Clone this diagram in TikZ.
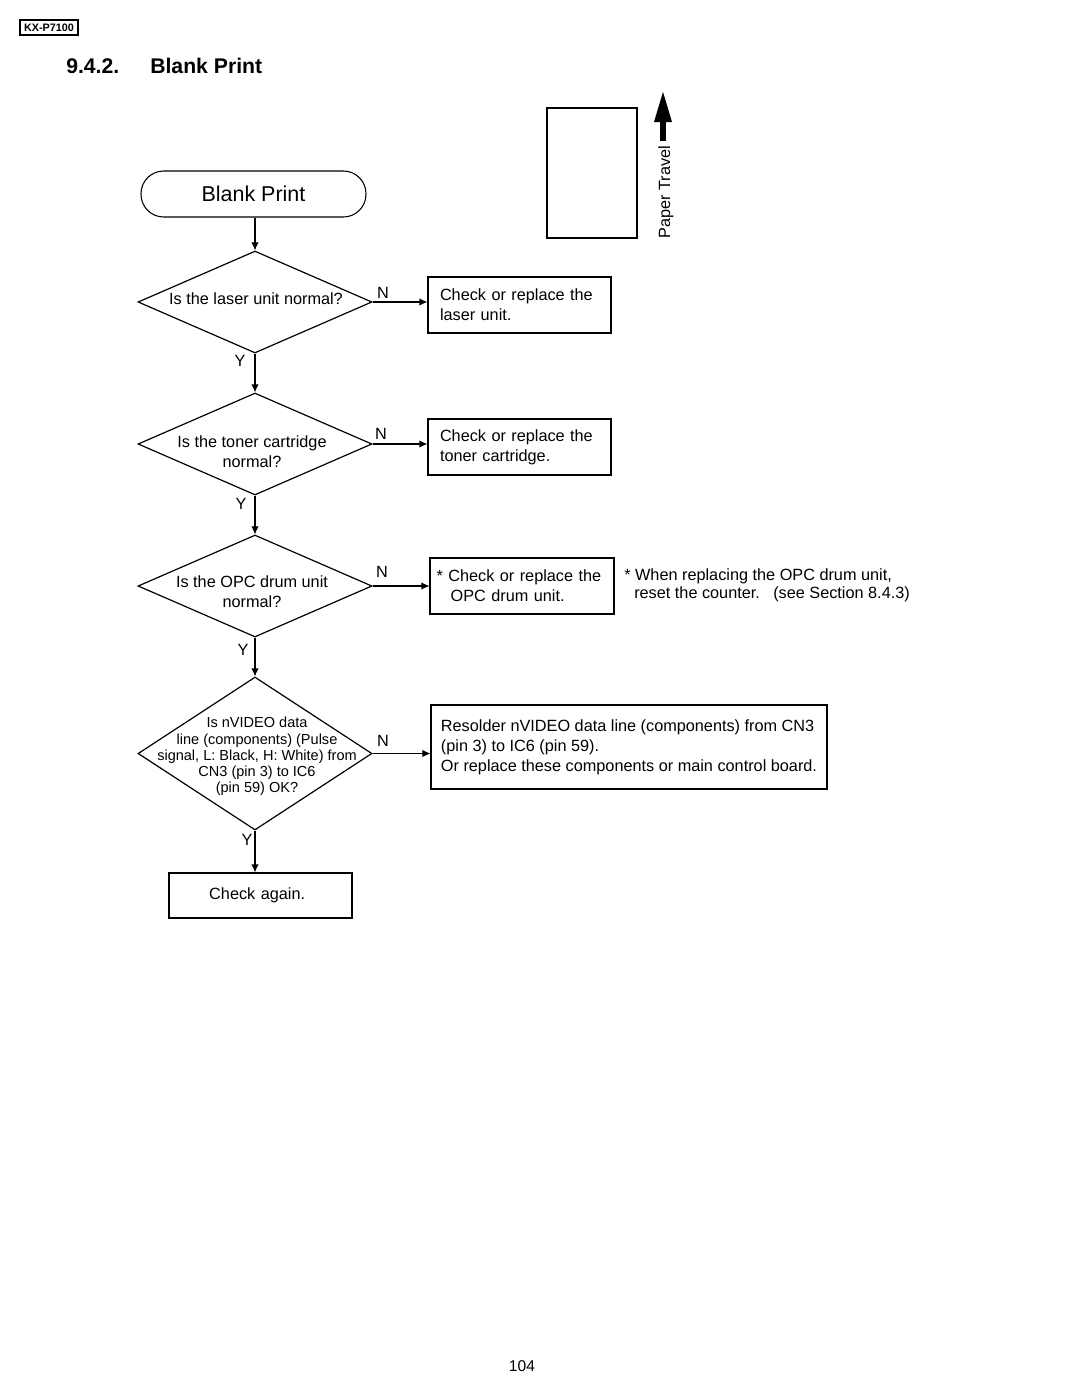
\documentclass[tikz,border=0pt]{standalone}
\usepackage{fontspec}
\setmainfont{Liberation Sans}
\usepackage{tikz}
\usetikzlibrary{shapes.geometric, arrows, arrows.meta}
\tikzstyle{startstop} = [rectangle, rounded corners=17pt, minimum width=168.75pt, minimum height=34.5pt, text centered, draw=black, line width=0.8pt, font=\fontsize{16.1}{19}\selectfont]
\tikzstyle{process} = [rectangle, minimum width=137.25pt, minimum height=42pt, inner xsep=9pt, text width=119.25pt, align=left, draw=black, line width=0.8pt, font=\fontsize{12.2}{15}\selectfont]
\tikzstyle{decision} = [diamond, minimum width=175.5pt, minimum height=76.5pt, inner sep=0pt, draw=black, line width=0.9pt]
\tikzstyle{question} = [align=center, inner sep=0pt, font=\fontsize{12.2}{15}\selectfont]
\tikzstyle{yn} = [inner sep=0pt, font=\fontsize{12.2}{15}\selectfont]
\tikzstyle{arrow} = [line width=0.8pt, -{Latex[length=6pt, width=5.5pt]}]

\begin{document}
\begin{tikzpicture}[x=0.75pt, y=-0.75pt]
	\useasboundingbox (0,0) rectangle (1080,1397);
	% page header
	\node (model) [draw, line width=1pt, inner sep=0pt, minimum width=43.5pt, minimum height=11.25pt, font=\fontsize{8.1}{9}\selectfont\bfseries] at (49,27.5) {KX-P7100};
	\node (secnum) [anchor=west, inner sep=0pt, font=\fontsize{15.9}{19}\selectfont\bfseries] at (66,66) {9.4.2.};
	\node (sectitle) [anchor=west, inner sep=0pt, font=\fontsize{15.9}{19}\selectfont\bfseries] at (150,66) {Blank Print};
	% paper and travel direction
	\node (paper) [draw=black, line width=0.8pt, minimum width=67.5pt, minimum height=97.5pt] at (592,173) {};
	\node (travel) [rotate=90, inner sep=0pt, font=\fontsize{12.2}{15}\selectfont] at (666,192) {Paper Travel};
	\coordinate (travtail) at (663,141);
	\coordinate (travtip) at (663,90);
	\draw [line width=4.5pt, -{Triangle[length=24pt, width=12pt]}] (travtail) -- (travtip);
	% flow
	\node (start) [startstop] at (253.5,194) {Blank Print};
	\node (q1) [decision] at (255,302) {};
	\node (q1t) [question] at (256,299) {Is the laser unit normal?};
	\node (b1) [process] at (519.5,305) {Check or replace the\\laser unit.};
	\node (q2) [decision] at (255,444) {};
	\node (q2t) [question] at (252,452) {Is the toner cartridge\\normal?};
	\node (b2) [process] at (519.5,447) {Check or replace the\\toner cartridge.};
	\node (q3) [decision] at (255,586) {};
	\node (q3t) [question] at (252,592) {Is the OPC drum unit\\normal?};
	\node (b3) [process, minimum width=138pt, inner xsep=5pt, text width=128pt] at (522,586) {* Check or replace the\\\hspace{10.5pt}OPC drum unit.};
	\node (note) [anchor=west, align=left, inner sep=0pt, font=\fontsize{12.2}{13.5}\selectfont] at (624,585) {* When replacing the OPC drum unit,\\\hspace{7.5pt}reset the counter.\hspace{10pt}(see Section 8.4.3)};
	\node (q4) [decision, minimum height=114.75pt] at (255,753.5) {};
	\node (q4t) [question, font=\fontsize{10.9}{12.2}\selectfont] at (257,756.5) {Is nVIDEO data\\line (components) (Pulse\\signal, L: Black, H: White) from\\CN3 (pin 3) to IC6\\(pin 59) OK?};
	\node (b4) [process, minimum width=297pt, minimum height=63pt, inner xsep=6.75pt, text width=] at (629,747) {Resolder nVIDEO data line (components) from CN3\\(pin 3) to IC6 (pin 59).\\Or replace these components or main control board.};
	\node (b5) [process, minimum height=33.75pt, align=center, font=\fontsize{12.2}{15}\selectfont] at (260.5,895.5) {\hspace{-5pt}Check again.};
	% connectors
	\draw [arrow] (start.south -| q1.north) -- (q1.north);
	\draw [arrow] (q1.south) -- (q2.north);
	\draw [arrow] (q2.south) -- (q3.north);
	\draw [arrow] (q3.south) -- (q4.north);
	\draw [arrow] (q4.south) -- (q4.south |- b5.north);
	\draw [arrow] (q1.east) -- (q1.east -| b1.west);
	\draw [arrow] (q2.east) -- (q2.east -| b2.west);
	\draw [arrow] (q3.east) -- (q3.east -| b3.west);
	\draw [arrow] (q4.east) -- (q4.east -| b4.west);
	% Y and N labels
	\node (n1) [yn] at (383,293) {N};
	\node (n2) [yn] at (381,434) {N};
	\node (n3) [yn] at (382,572) {N};
	\node (n4) [yn] at (383,741) {N};
	\node (y1) [yn] at (240,361) {Y};
	\node (y2) [yn] at (241,504) {Y};
	\node (y3) [yn] at (243,650) {Y};
	\node (y4) [yn] at (247,840) {Y};
	% footer
	\node (pagenum) [font=\fontsize{11.7}{14}\selectfont] at (522,1366) {104};
\end{tikzpicture}
\end{document}
